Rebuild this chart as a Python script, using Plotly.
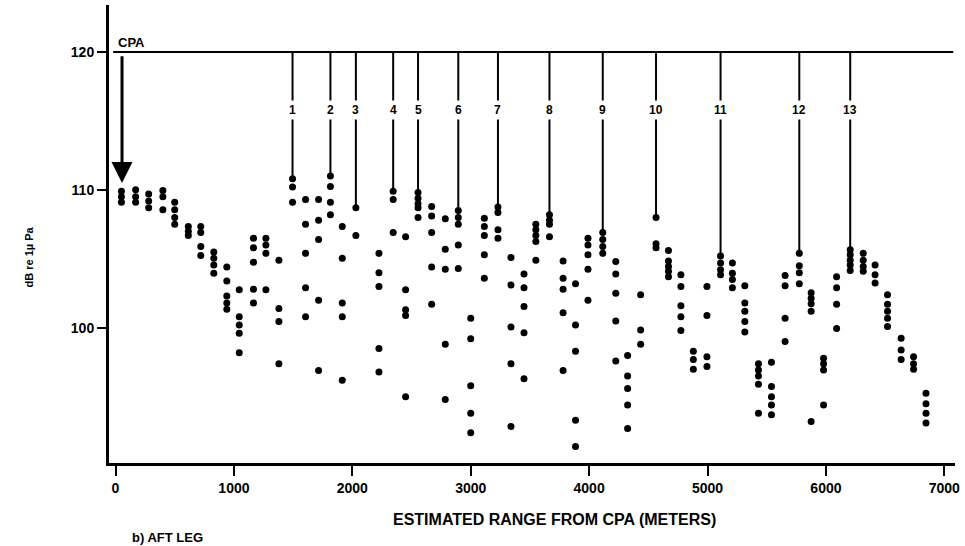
import plotly.graph_objects as go

# ---- data (range in metres, level in dB re 1 uPa) ----
range_cols = [50, 170, 280, 400, 500, 615, 720, 830, 940, 1045, 1165, 1270, 1380,
              1495, 1605, 1715, 1815, 1915, 2030, 2225, 2345, 2450, 2555, 2670, 2785,
              2895, 3000, 3115, 3230, 3340, 3450, 3550, 3665, 3780, 3885, 3990, 4115,
              4225, 4325, 4435, 4565, 4670, 4775, 4880, 4995, 5110, 5210, 5315, 5430,
              5540, 5655, 5775, 5875, 5980, 6090, 6205, 6315, 6415, 6520, 6635, 6740, 6845]

levels = [
    [109.9, 109.5, 109.1],
    [110.0, 109.5, 109.1],
    [109.7, 109.2, 108.7],
    [109.95, 109.5, 108.55],
    [109.1, 108.55, 108.0, 107.5],
    [107.35, 107.0, 106.7],
    [107.35, 106.9, 105.9, 105.25],
    [105.5, 105.05, 104.55, 103.95],
    [104.4, 103.4, 102.3, 101.8, 101.35],
    [102.75, 100.8, 100.2, 99.6, 98.2],
    [106.5, 105.8, 104.75, 102.8, 101.8],
    [106.5, 106.0, 105.4, 102.75],
    [104.9, 101.4, 100.45, 97.4],
    [110.8, 110.2, 109.1],
    [109.3, 107.5, 105.4, 102.9, 100.8],
    [109.3, 107.8, 106.4, 102.0, 96.9],
    [111.0, 110.25, 109.1, 108.2],
    [107.35, 105.05, 101.8, 100.8, 96.2],
    [108.7, 106.7],
    [105.4, 104.0, 103.0, 98.5, 96.8],
    [109.9, 109.3, 106.9],
    [106.6, 102.75, 101.3, 100.9, 95.0],
    [109.8, 109.4, 109.0, 108.7, 108.0],
    [108.8, 108.1, 106.9, 104.4, 101.7],
    [107.9, 105.7, 104.25, 98.8, 94.8],
    [108.5, 108.0, 107.5, 106.0, 104.3],
    [100.7, 99.2, 95.8, 93.8, 92.4],
    [107.95, 107.35, 106.7, 105.3, 103.6],
    [108.75, 108.35, 107.1, 106.5],
    [105.1, 103.1, 100.05, 97.4, 92.85],
    [103.9, 102.9, 101.55, 99.65, 96.3],
    [107.5, 107.1, 106.7, 106.25, 104.9],
    [108.2, 107.8, 107.5, 106.6],
    [104.85, 103.6, 102.8, 101.1, 96.9],
    [103.2, 100.2, 98.3, 93.3, 91.4],
    [106.5, 106.0, 105.3, 104.25, 102.0],
    [106.9, 106.4, 105.9, 105.4],
    [104.8, 103.9, 102.5, 100.5, 97.6],
    [98.0, 96.5, 95.6, 94.4, 92.7],
    [102.4, 99.85, 98.8],
    [108.0, 106.1, 105.8],
    [105.6, 104.85, 104.45, 104.1, 103.7],
    [103.85, 103.0, 101.6, 100.8, 99.8],
    [98.3, 97.7, 97.0],
    [103.0, 100.9, 97.9, 97.2],
    [105.2, 104.7, 104.2, 103.85],
    [104.7, 103.95, 103.5, 102.9],
    [103.05, 101.8, 101.2, 100.45, 99.7],
    [97.4, 96.95, 96.5, 95.9, 93.8],
    [97.5, 95.75, 95.0, 94.4, 93.7],
    [103.8, 103.05, 100.7, 99.0],
    [105.4, 104.5, 104.0, 103.2],
    [102.55, 102.15, 101.75, 101.2, 93.2],
    [97.8, 97.4, 96.95, 94.4],
    [103.7, 102.9, 101.7, 99.95],
    [105.65, 105.3, 104.9, 104.55, 104.15],
    [105.4, 104.9, 104.45, 104.1],
    [104.55, 103.85, 103.25],
    [102.4, 101.7, 101.2, 100.7, 100.1],
    [99.25, 98.4, 97.7],
    [97.9, 97.4, 97.0],
    [95.25, 94.5, 93.8, 93.1],
]

# numbered events (range of the column each line points to)
event_labels = [str(i) for i in range(1, 14)]
event_ranges = [1495, 1815, 2030, 2345, 2555, 2895, 3230, 3665, 4115, 4565, 5110, 5775, 6205]

x_ticks = [0, 1000, 2000, 3000, 4000, 5000, 6000, 7000]
y_ticks = [100, 110, 120]

cpa_range = 55
cpa_top_level = 120
cpa_line_start, cpa_line_end = -20, 7075
label_level = 115.8

# ---- build figure ----
xs, ys = [], []
for r, lv in zip(range_cols, levels):
    for v in lv:
        xs.append(r)
        ys.append(v)

FONT = "Liberation Sans"
fig = go.Figure()
fig.add_trace(go.Scatter(x=xs, y=ys, mode="markers",
                         marker=dict(color="black", size=7, line=dict(width=0)),
                         showlegend=False, hoverinfo="skip"))

shapes = [dict(type="line", xref="x", yref="y", x0=cpa_line_start, x1=cpa_line_end,
               y0=cpa_top_level, y1=cpa_top_level, line=dict(color="black", width=2))]
annotations = []
top_of = dict(zip(range_cols, [max(l) for l in levels]))
for lab, r in zip(event_labels, event_ranges):
    shapes.append(dict(type="line", xref="x", yref="y", x0=r, x1=r,
                       y0=cpa_top_level, y1=top_of[r], line=dict(color="black", width=2)))
    annotations.append(dict(x=r, y=label_level, xref="x", yref="y", text=lab,
                            showarrow=False, bgcolor="white", borderpad=2,
                            font=dict(family=FONT, size=12, color="black", weight="bold")))

# CPA arrow and label
annotations.append(dict(x=cpa_range, y=110.5, ax=cpa_range, ay=cpa_top_level - 0.2,
                        xref="x", yref="y", axref="x", ayref="y", text="",
                        showarrow=True, arrowhead=2, arrowsize=1.4, arrowwidth=3,
                        arrowcolor="black"))
annotations.append(dict(x=0, y=cpa_top_level, xref="x", yref="y", text="CPA",
                        xanchor="left", yanchor="bottom", showarrow=False, yshift=0,
                        font=dict(family=FONT, size=13, color="black", weight="bold")))

# axis titles and caption
annotations.append(dict(x=0.527, y=-0.124, xref="paper", yref="paper",
                        text="ESTIMATED RANGE FROM CPA (METERS)", showarrow=False,
                        xanchor="center", yanchor="middle",
                        font=dict(family=FONT, size=16, color="black", weight="bold")))
annotations.append(dict(x=-0.095, y=0.45, xref="paper", yref="paper",
                        text="dB re 1µ Pa", showarrow=False, textangle=-90,
                        xanchor="center", yanchor="middle",
                        font=dict(family=FONT, size=11, color="black", weight="bold")))
annotations.append(dict(x=0.025, y=-0.163, xref="paper", yref="paper",
                        text="b) AFT LEG", showarrow=False,
                        xanchor="left", yanchor="middle",
                        font=dict(family=FONT, size=13, color="black", weight="bold")))

fig.update_layout(
    width=965, height=546,
    margin=dict(l=109, r=10, t=5, b=83),
    paper_bgcolor="white", plot_bgcolor="white",
    shapes=shapes, annotations=annotations,
    xaxis=dict(range=[-55, 7090], tickvals=x_ticks, ticks="outside", ticklen=10,
               tickwidth=2, tickcolor="black", showline=True, linewidth=3,
               linecolor="black", showgrid=False, zeroline=False,
               tickfont=dict(family=FONT, size=14, color="black", weight="bold")),
    yaxis=dict(range=[90.2, 123.4], tickvals=y_ticks, ticks="outside", ticklen=9,
               tickwidth=2, tickcolor="black", showline=True, linewidth=3,
               linecolor="black", showgrid=False, zeroline=False,
               tickfont=dict(family=FONT, size=14, color="black", weight="bold")),
)

fig.write_html("out.html")
